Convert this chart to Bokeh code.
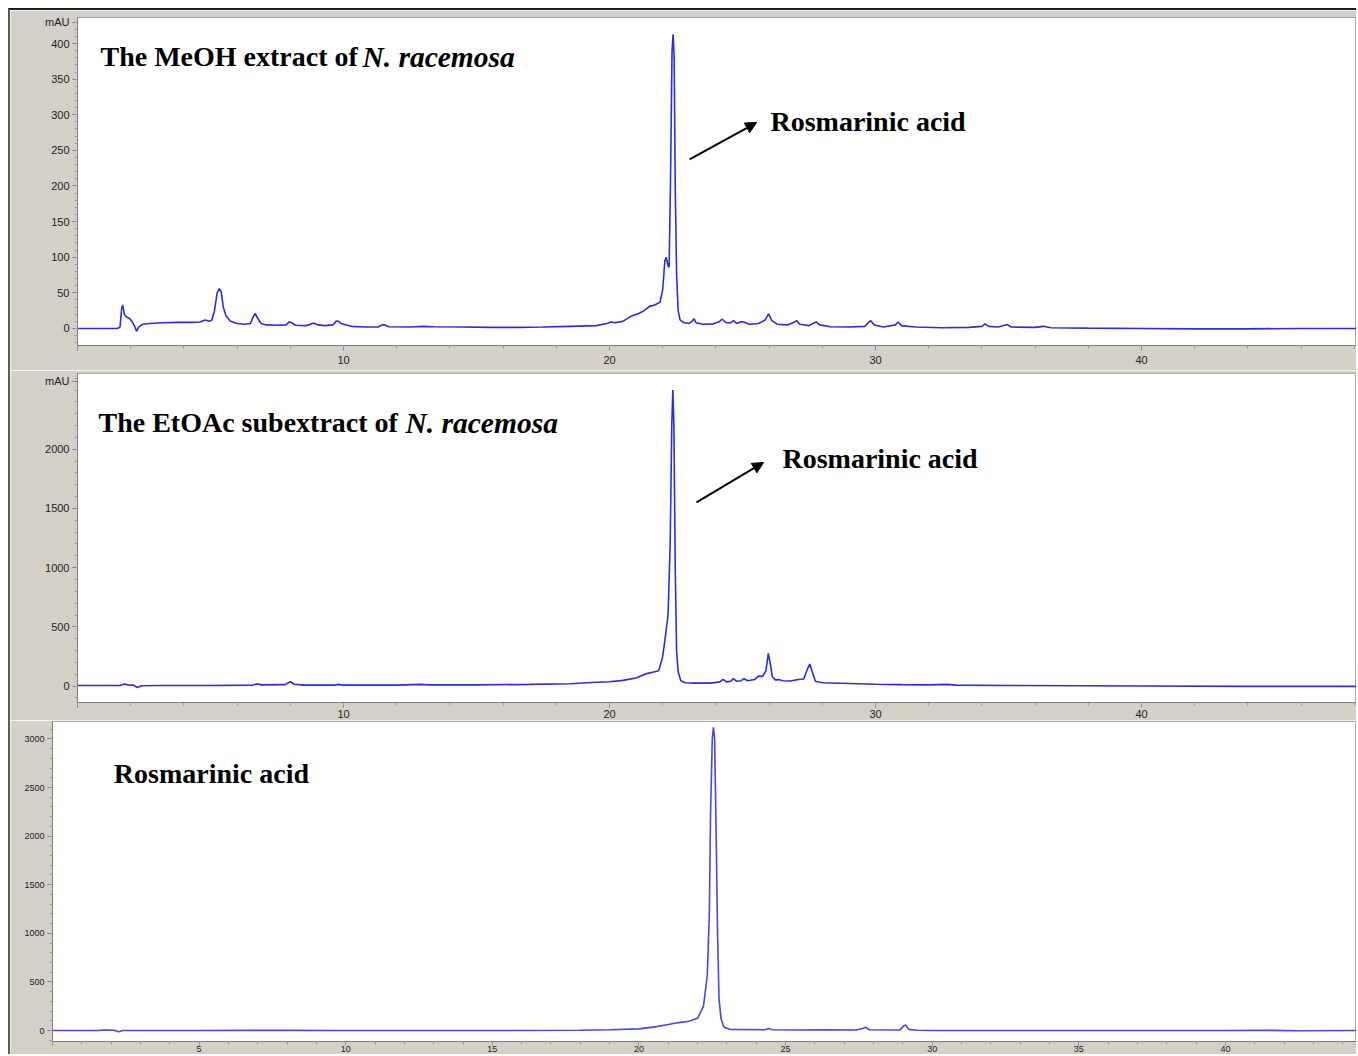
from bokeh.plotting import figure
from bokeh.layouts import column
from bokeh.models import (Range1d, SingleIntervalTicker, FixedTicker, Label, Arrow,
                          NormalHead, ColumnDataSource)
from bokeh.embed import file_html
from bokeh.resources import INLINE

# ---------------- data ----------------
# Panel 1: MeOH extract of N. racemosa (time, min / absorbance, mAU)
meoh_t = [0.0, 1.50, 1.60, 1.66, 1.70, 1.76, 1.85, 1.95, 2.05, 2.15, 2.22, 2.30, 2.45, 2.70,
          3.2, 3.8, 4.3, 4.6, 4.8, 4.95, 5.05, 5.15, 5.25, 5.33, 5.40, 5.48, 5.58, 5.75,
          6.0, 6.3, 6.5, 6.6, 6.68, 6.78, 6.9, 7.1, 7.5, 7.85, 7.95, 8.05, 8.2, 8.6, 8.8,
          8.9, 9.05, 9.3, 9.6, 9.72, 9.8, 9.9, 10.1, 10.3, 10.8, 11.3, 11.45, 11.55, 11.7,
          12.5, 13.0, 13.4, 14.5, 15.5, 16.5, 17.5, 18.5, 19.5, 19.9, 20.05, 20.2, 20.5,
          20.8, 21.1, 21.3, 21.5, 21.7, 21.9, 22.0, 22.08, 22.13, 22.2, 22.24, 22.29, 22.35,
          22.39, 22.43, 22.47, 22.52, 22.58, 22.65, 22.8, 23.0, 23.12, 23.18, 23.25, 23.5,
          23.9, 24.1, 24.24, 24.38, 24.55, 24.66, 24.78, 24.95, 25.05, 25.25, 25.6, 25.85,
          25.98, 26.1, 26.3, 26.7, 26.95, 27.03, 27.15, 27.5, 27.7, 27.78, 27.9, 28.3, 29.0,
          29.6, 29.75, 29.82, 29.95, 30.3, 30.75, 30.85, 30.97, 31.5, 32.5, 33.5, 34.0,
          34.12, 34.25, 34.6, 34.85, 34.95, 35.1, 36.0, 36.3, 36.6, 38.0, 40.0, 42.0, 44.0,
          46.0, 48.5]
meoh_a = [0, 0, 2, 28, 33, 20, 16, 14, 10, 3, -4, 2, 6, 7,
          8, 8.5, 8.5, 9, 12, 10, 12, 25, 50, 56, 52, 30, 18, 10,
          7, 6, 7, 16, 21, 14, 7, 5, 4.5, 5, 9.5, 8, 4.5, 4, 6.5,
          7.5, 5, 4, 5, 10, 10.5, 7, 5, 3, 2, 2, 5, 5, 2.5,
          2, 3, 2.5, 2, 1.5, 1.5, 2, 3, 4, 7, 9, 8, 10,
          17, 21, 25, 31, 33, 37, 55, 95, 100, 88, 86, 200, 390,
          413, 380, 200, 77, 25, 12, 8, 7, 11, 13.5, 8, 6,
          6.5, 9, 13, 8, 8, 11, 7, 9.5, 9, 6, 7, 12,
          20.5, 11, 6, 5, 9, 11, 6, 4, 8, 9, 5, 2.5, 2,
          3, 9, 11, 5, 2, 5, 9, 4, 2, 1, 1.5, 3,
          6.5, 3, 2, 4.5, 5.5, 2, 1.5, 3, 1, 0.5, 0, -0.5, -0.5,
          0, 0]

# Panel 2: EtOAc subextract of N. racemosa
etoac_t = [0.0, 1.6, 1.75, 1.9, 2.1, 2.25, 2.4, 3.0, 5.0, 6.6, 6.75, 6.9, 7.8, 8.0, 8.15,
           8.5, 9.7, 9.8, 9.95, 12.0, 12.9, 13.2, 15.0, 17.0, 18.5, 19.5, 20.0, 20.5, 21.0,
           21.4, 21.7, 21.85, 22.0, 22.1, 22.2, 22.28, 22.34, 22.38, 22.42, 22.47, 22.52,
           22.58, 22.68, 22.85, 23.2, 23.8, 24.15, 24.27, 24.4, 24.55, 24.66, 24.78, 24.95,
           25.05, 25.2, 25.45, 25.6, 25.75, 25.88, 25.97, 26.05, 26.12, 26.25, 26.35, 26.5,
           26.8, 27.1, 27.3, 27.45, 27.53, 27.62, 27.74, 28.0, 29.0, 30.0, 31.0, 32.0, 32.7,
           33.0, 35.0, 38.0, 40.0, 44.0, 48.5]
etoac_a = [5, 5, 18, 10, 8, -12, 2, 5, 5, 8, 20, 10, 12, 36, 15,
           8, 8, 14, 8, 8, 14, 10, 10, 14, 20, 32, 36, 48, 68,
           105, 120, 130, 250, 420, 600, 1200, 2200, 2500, 2200, 1000, 300,
           120, 45, 28, 25, 25, 35, 56, 35, 40, 62, 40, 45,
           62, 45, 55, 84, 80, 130, 276, 180, 78, 50, 55, 45,
           42, 55, 60, 150, 186, 120, 40, 28, 22, 15, 12, 10, 14,
           8, 5, 3, 0, -3, -3]

# Panel 3: rosmarinic acid standard
std_t = [0.0, 1.6, 1.7, 1.9, 2.1, 2.25, 2.4, 5.0, 8.0, 9.6, 15.0, 18.0, 19.0, 20.0, 20.6,
         21.0, 21.3, 21.7, 22.0, 22.2, 22.33, 22.4, 22.44, 22.5, 22.54, 22.58, 22.64, 22.68,
         22.73, 22.8, 22.9, 23.1, 24.3, 24.43, 24.55, 25.5, 26.3, 27.4, 27.62, 27.73, 27.85,
         28.9, 29.02, 29.09, 29.2, 29.5, 30.0, 35.0, 40.0, 41.5, 42.5, 44.6]
std_a = [0, 0, 5, 4, 3, -12, 0, 0, 2, 0, 0, 3, 8, 17, 40,
         62, 79, 95, 127, 250, 566, 1200, 2212, 3000, 3120, 3000, 1869, 1000,
         326, 120, 34, 12, 8, 20, 8, 5, 8, 5, 20, 34, 8,
         5, 45, 58, 12, 3, 0, 0, 0, 2, -3, 0]

# axis ticks (the topmost entry carries the "mAU" unit caption)
p1_yticks = [0, 50, 100, 150, 200, 250, 300, 350, 400, 429.5]
p1_ylabels = {429.5: "mAU"}
p1_yminor = list(range(-20, 431, 10))
p2_yticks = [0, 500, 1000, 1500, 2000, 2573]
p2_ylabels = {2573: "mAU"}
p2_yminor = list(range(-100, 2601, 100))

# ---------------- styling ----------------
GRAY = "#d4d0c8"
BLUE = "#2b2be8"
AXC = "#7c7c7c"
SERIF = "Liberation Serif"
SANS = "Liberation Sans"


def style(p, fs="11px"):
    p.background_fill_color = "white"
    p.border_fill_color = GRAY
    p.outline_line_color = "#a8a8a8"
    p.xgrid.visible = False
    p.ygrid.visible = False
    for ax in (p.xaxis[0], p.yaxis[0]):
        ax.axis_line_color = AXC
        ax.major_tick_line_color = AXC
        ax.minor_tick_line_color = "#9c9c9c"
        ax.major_tick_in = 0
        ax.minor_tick_in = 0
        ax.major_tick_out = 5
        ax.minor_tick_out = 3
        ax.major_label_text_font = SANS
        ax.major_label_text_font_size = fs
        ax.major_label_text_color = "#222222"
    p.yaxis.major_label_standoff = 3
    p.xaxis.major_label_overrides = {0: ""}


def add_text(p, x, y, txt, style_="bold", size="28px"):
    p.add_layout(Label(x=x, y=y, text=txt, text_font=SERIF, text_font_style=style_,
                       text_font_size=size, text_color="black",
                       text_baseline="alphabetic"))


# ---------------- panel 1 ----------------
p1 = figure(width=1346, height=360, output_backend="svg", toolbar_location=None,
            x_range=Range1d(0, 48.08), y_range=Range1d(-23.9, 436.5),
            min_border_left=67, min_border_right=0, min_border_top=7, min_border_bottom=25)
style(p1)
p1.xaxis.ticker = SingleIntervalTicker(interval=10, num_minor_ticks=5)
p1.yaxis.ticker = FixedTicker(ticks=p1_yticks, minor_ticks=p1_yminor)
p1.yaxis.major_label_overrides = p1_ylabels
p1.xaxis.major_label_standoff = 5
p1.line(x="t", y="a", source=ColumnDataSource(dict(t=meoh_t, a=meoh_a)),
        line_color=BLUE, line_width=1.6)
add_text(p1, 0.865, 381.4, "The MeOH extract of ")
add_text(p1, 10.71, 381.4, "N. racemosa", "bold italic", "29.5px")
add_text(p1, 26.05, 290.2, "Rosmarinic acid")
p1.add_layout(Arrow(x_start=23.01, y_start=237.2, x_end=25.53, y_end=289.1,
                    line_width=2, line_color="black",
                    end=NormalHead(size=11, fill_color="black", line_color="black")))

# ---------------- panel 2 ----------------
p2 = figure(width=1346, height=350, output_backend="svg", toolbar_location=None,
            x_range=Range1d(0, 48.08), y_range=Range1d(-139, 2640),
            min_border_left=67, min_border_right=0, min_border_top=3, min_border_bottom=18)
style(p2)
p2.xaxis.ticker = SingleIntervalTicker(interval=10, num_minor_ticks=5)
p2.yaxis.ticker = FixedTicker(ticks=p2_yticks, minor_ticks=p2_yminor)
p2.yaxis.major_label_overrides = p2_ylabels
p2.xaxis.major_label_standoff = 2
p2.line(x="t", y="a", source=ColumnDataSource(dict(t=etoac_t, a=etoac_a)),
        line_color=BLUE, line_width=1.6)
add_text(p2, 0.79, 2225, "The EtOAc subextract of ")
add_text(p2, 12.33, 2225, "N. racemosa", "bold italic", "29.5px")
add_text(p2, 26.5, 1918, "Rosmarinic acid")
p2.add_layout(Arrow(x_start=23.27, y_start=1550.5, x_end=25.79, y_end=1888.5,
                    line_width=2, line_color="black",
                    end=NormalHead(size=11, fill_color="black", line_color="black")))

# ---------------- panel 3 ----------------
p3 = figure(width=1346, height=334, output_backend="svg", toolbar_location=None,
            x_range=Range1d(0, 44.47), y_range=Range1d(-113, 3179),
            min_border_left=42, min_border_right=0, min_border_top=1, min_border_bottom=13)
style(p3, fs="9px")
p3.xaxis.ticker = SingleIntervalTicker(interval=5, num_minor_ticks=5)
p3.yaxis.ticker = SingleIntervalTicker(interval=500, num_minor_ticks=5)
p3.xaxis.major_label_standoff = 0
p3.xaxis.major_tick_out = 4
p3.line(x="t", y="a", source=ColumnDataSource(dict(t=std_t, a=std_a)),
        line_color="#4646ea", line_width=1.6)
add_text(p3, 2.09, 2649, "Rosmarinic acid")

layout = column(p1, p2, column(p3), spacing=0,
                styles={"margin-top": "8px", "margin-left": "8px",
                        "border-top": "2px solid #1e1e1e", "border-left": "2px solid #5a5a5a"})

open("out.html", "w").write(file_html(layout, INLINE))
